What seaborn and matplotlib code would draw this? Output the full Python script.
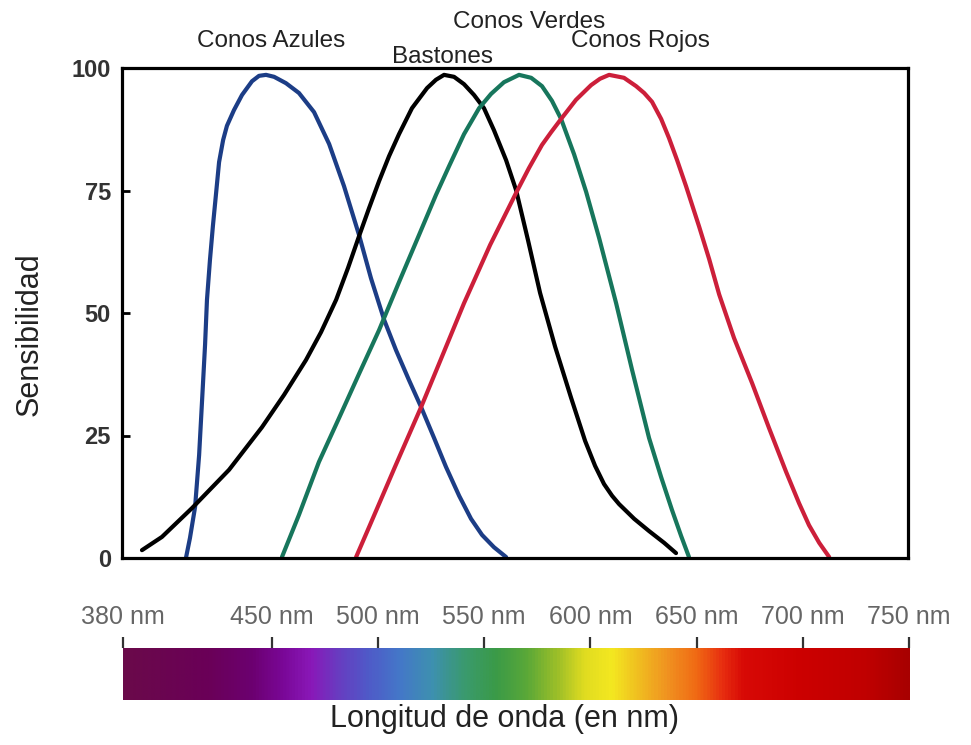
import numpy as np
import pandas as pd
import matplotlib
matplotlib.use("Agg")
import matplotlib.pyplot as plt
from matplotlib.colors import LinearSegmentedColormap
import seaborn as sns

# ---------------- data ----------------
blue_nm = [410.1, 412.0, 414.4, 416.3, 417.7, 419.1, 420.0, 421.4, 422.8, 424.3, 425.7,
           427.6, 429.4, 432.7, 436.5, 441.2, 444.5, 447.8, 451.6, 457.2, 463.3, 470.4,
           477.5, 484.5, 491.6, 497.2, 503.4, 509.0, 515.1, 520.8, 526.9, 532.5, 538.7,
           544.3, 549.5, 555.1, 560.8]
blue_s = [0.0, 4.1, 10.4, 21.0, 32.2, 43.5, 52.7, 60.8, 67.8, 74.5, 80.8,
          85.3, 88.2, 91.4, 94.5, 97.3, 98.4, 98.6, 98.2, 96.9, 94.9, 91.0,
          84.5, 75.9, 65.9, 57.1, 48.6, 42.4, 36.3, 30.8, 24.5, 18.6, 12.7,
          8.0, 4.7, 2.2, 0.2]

black_nm = [389.4, 398.8, 413.0, 430.4, 445.9, 456.3, 466.6, 473.7, 480.8, 486.4, 491.6,
            496.3, 501.0, 505.7, 510.4, 516.5, 523.6, 527.8, 531.6, 536.3, 541.0, 545.7,
            550.4, 555.1, 560.8, 565.5, 571.1, 576.8, 583.9, 591.4, 598.0, 602.7, 606.9,
            610.7, 614.0, 621.1, 628.1, 635.2, 640.8]
black_s = [1.6, 4.3, 10.2, 18.0, 26.7, 33.3, 40.4, 46.1, 52.7, 59.2, 65.7,
           71.4, 76.9, 82.0, 86.5, 91.8, 95.9, 97.6, 98.6, 98.2, 96.7, 94.5,
           91.8, 87.3, 81.2, 75.1, 64.9, 54.1, 43.1, 32.7, 23.9, 18.8, 15.1,
           12.7, 11.0, 8.0, 5.5, 3.1, 1.0]

green_nm = [455.3, 463.3, 472.7, 482.2, 491.6, 501.0, 510.4, 519.8, 527.8, 534.0, 541.0,
            548.1, 553.7, 559.8, 566.9, 572.6, 577.7, 582.4, 586.7, 592.8, 598.5, 604.6,
            612.6, 620.1, 628.1, 633.8, 638.9, 643.2, 646.9]
green_s = [0.2, 8.8, 19.6, 28.6, 37.6, 46.5, 56.3, 65.9, 74.1, 80.0, 86.5,
           91.8, 94.7, 97.1, 98.6, 98.0, 96.3, 93.3, 89.6, 82.4, 74.7, 65.3,
           52.0, 38.4, 24.5, 16.5, 9.8, 4.5, 0.2]

red_nm = [490.2, 496.3, 508.5, 520.8, 531.1, 541.0, 553.3, 565.5, 571.6, 577.7, 582.0,
          586.7, 593.7, 600.8, 605.0, 609.3, 616.3, 622.0, 625.8, 629.5, 633.8, 637.5,
          641.3, 645.5, 651.7, 656.4, 661.1, 668.1, 676.6, 684.6, 692.6, 698.7, 703.4,
          708.2, 712.9]
red_s = [0.2, 6.3, 18.6, 30.8, 41.6, 52.0, 63.9, 74.5, 79.6, 84.3, 86.9,
         89.6, 93.5, 96.5, 97.8, 98.6, 98.0, 96.3, 94.9, 93.1, 89.6, 85.7,
         81.2, 75.9, 67.6, 61.0, 53.8, 44.9, 35.7, 26.5, 17.6, 11.2, 6.7,
         3.1, 0.2]

curve_names = ["Conos Azules", "Bastones", "Conos Verdes", "Conos Rojos"]
curve_colors = ["#1c3d86", "#000000", "#17765c", "#cc1f3a"]

y_ticks = [0, 25, 50, 75, 100]
spec_ticks = [380, 450, 500, 550, 600, 650, 700, 750]
spec_labels = ["380 nm", "450 nm", "500 nm", "550 nm", "600 nm", "650 nm", "700 nm", "750 nm"]

spec_stop_nm = [380, 420, 440, 455, 468, 480, 495, 510, 525, 540, 555, 570, 585, 597,
                610, 622, 637, 650, 662, 672, 700, 730, 750]
spec_stop_col = ["#6a0a4a", "#6a0058", "#6c0070", "#7a0898", "#8a18b8", "#6a3ac0", "#4f5ac8",
                 "#4478c8", "#3e90b0", "#3a9a70", "#3a9a48", "#5aa838", "#a0c028", "#e0dc20",
                 "#f4e820", "#f0c020", "#f09020", "#f06a14", "#e83010", "#d80a06", "#cc0000",
                 "#c00000", "#a80000"]

# ---------------- figure ----------------
sns.set_theme(style="white")
plt.rcParams["font.family"] = ["Liberation Sans", "DejaVu Sans"]

W, H = 971, 745
fig = plt.figure(figsize=(W / 100, H / 100), dpi=100)

def fx(px):
    return px / W

def fy(py):
    return 1 - py / H

ax = fig.add_axes([fx(122), fy(558), fx(908) - fx(122), fy(68) - fy(558)])

frames = []
for name, xs, ys in zip(curve_names,
                        [blue_nm, black_nm, green_nm, red_nm],
                        [blue_s, black_s, green_s, red_s]):
    frames.append(pd.DataFrame({"nm": xs, "sens": ys, "curve": name}))
df = pd.concat(frames, ignore_index=True)

sns.lineplot(data=df, x="nm", y="sens", hue="curve", hue_order=curve_names,
             palette=dict(zip(curve_names, curve_colors)), sort=False, estimator=None,
             linewidth=3.0, legend=False, ax=ax)
for ln in ax.get_lines():
    ln.set_solid_joinstyle("round")
    ln.set_solid_capstyle("round")

ax.set_xlim(380, 750)
ax.set_ylim(0, 100)
ax.set_xticks([])
ax.set_yticks(y_ticks)
ax.set_yticklabels([str(t) for t in y_ticks], fontsize=17, fontweight="bold", color="#333333")
ax.tick_params(axis="y", direction="in", length=6, width=2.0, color="black", pad=8, left=True)
ax.set_xlabel("")
ax.set_ylabel("")
for s in ax.spines.values():
    s.set_visible(True)
    s.set_linewidth(2.3)
    s.set_color("black")

# curve labels
lab_pos = [(271, 47), (442, 63), (529, 28), (640, 47)]
for name, (px, py) in zip(curve_names, lab_pos):
    fig.text(fx(px), fy(py), name, ha="center", va="baseline", fontsize=17.5, color="#222222")

# spectrum bar
ax2 = fig.add_axes([fx(123), fy(700), fx(909) - fx(123), fy(648) - fy(700)])
span = spec_stop_nm[-1] - spec_stop_nm[0]
cmap = LinearSegmentedColormap.from_list(
    "spec", [((n - spec_stop_nm[0]) / span, c) for n, c in zip(spec_stop_nm, spec_stop_col)])
grad = np.linspace(0, 1, 800).reshape(1, -1)
ax2.imshow(grad, aspect="auto", cmap=cmap, extent=[380, 750, 0, 1])
ax2.set_xlim(380, 750)
ax2.set_ylim(0, 1)
ax2.set_yticks([])
ax2.set_xticks(spec_ticks)
ax2.set_xticklabels(spec_labels, fontsize=18, color="#666666")
ax2.xaxis.tick_top()
ax2.tick_params(axis="x", direction="out", length=8, width=1.6, color="#333333", pad=6,
                top=True, bottom=False)
for s in ax2.spines.values():
    s.set_visible(False)

fig.text(fx(504), fy(727), "Longitud de onda (en nm)", ha="center", va="baseline",
         fontsize=22, color="#222222")
fig.text(fx(30), fy(334), "Sensibilidad", ha="center", va="center", rotation=90,
         fontsize=22, color="#222222")

fig.savefig("out.png", dpi=100)
